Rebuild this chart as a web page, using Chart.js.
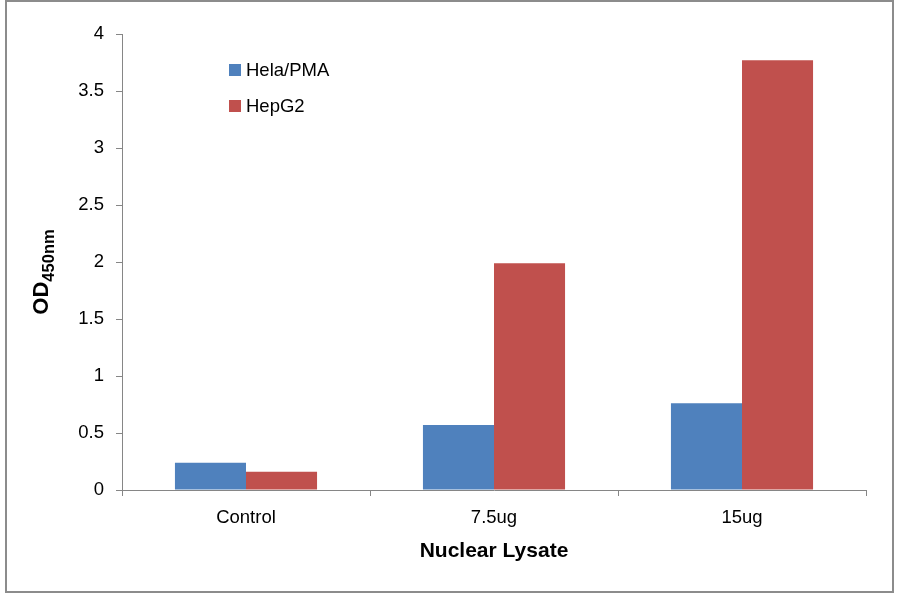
<!DOCTYPE html>
<html>
<head>
<meta charset="utf-8">
<style>
  html, body { margin: 0; padding: 0; background: #fff; }
  #wrap { width: 900px; height: 594px; }
</style>
<script src="https://cdn.jsdelivr.net/npm/chart.js@4/dist/chart.umd.min.js"></script>
</head>
<body>
<div id="wrap"><canvas id="chart" width="900" height="594"></canvas></div>
<script>
// Data
const categories = ['Control', '7.5ug', '15ug'];
const helaValues = [0.24, 0.57, 0.76];
const hepg2Values = [0.16, 1.99, 3.77];
const seriesNames = ['Hela/PMA', 'HepG2'];
const yTicks = [0, 0.5, 1, 1.5, 2, 2.5, 3, 3.5, 4];

const BLUE = '#4F81BD';
const RED = '#C0504D';
const AXIS = '#868686';
const FONT = "'Liberation Sans', 'DejaVu Sans', sans-serif";

// Frame, legend and axis titles
const decorations = {
    id: 'decorations',
    afterDraw(chart) {
        const ctx = chart.ctx;
        const area = chart.chartArea;
        ctx.save();

        // outer frame
        ctx.strokeStyle = '#8c8c8c';
        ctx.lineWidth = 2;
        ctx.strokeRect(6, 1, 887, 591);

        // legend inside plot
        const items = chart.data.datasets.map(ds => ({ label: ds.label, color: ds.backgroundColor }));
        ctx.font = '18.5px ' + FONT;
        ctx.textBaseline = 'middle';
        ctx.textAlign = 'left';
        items.forEach((it, i) => {
            const y = 70 + i * 36;
            ctx.fillStyle = it.color;
            ctx.fillRect(229, y - 6, 12, 12);
            ctx.fillStyle = '#000';
            ctx.fillText(it.label, 246, y + 1);
        });

        // x title
        ctx.font = 'bold 21px ' + FONT;
        ctx.textAlign = 'center';
        ctx.fillText('Nuclear Lysate', (area.left + area.right) / 2, 551);

        // y title with subscript
        ctx.translate(40, 272);
        ctx.rotate(-Math.PI / 2);
        ctx.font = 'bold 22px ' + FONT;
        const main = 'OD';
        const mainW = ctx.measureText(main).width;
        ctx.font = 'bold 16.5px ' + FONT;
        const sub = '450nm';
        const subW = ctx.measureText(sub).width;
        const start = -(mainW + subW) / 2;
        ctx.textAlign = 'left';
        ctx.textBaseline = 'alphabetic';
        ctx.font = 'bold 22px ' + FONT;
        ctx.fillText(main, start, 8);
        ctx.font = 'bold 16.5px ' + FONT;
        ctx.fillText(sub, start + mainW, 14);

        ctx.restore();
    }
};

const chart = new Chart(document.getElementById('chart'), {
    type: 'bar',
    data: {
        labels: categories,
        datasets: [
            { label: seriesNames[0], data: helaValues, backgroundColor: BLUE },
            { label: seriesNames[1], data: hepg2Values, backgroundColor: RED }
        ]
    },
    options: {
        responsive: false,
        animation: false,
        events: [],
        layout: { padding: { left: 0, right: 34, top: 34, bottom: 0 } },
        datasets: {
            bar: { categoryPercentage: 0.573, barPercentage: 1.0 }
        },
        plugins: {
            legend: { display: false },
            tooltip: { enabled: false }
        },
        scales: {
            x: {
                grid: {
                    display: true,
                    drawOnChartArea: false,
                    drawTicks: true,
                    tickLength: 6,
                    color: AXIS,
                    offset: true
                },
                border: { display: true, color: AXIS, width: 1 },
                ticks: {
                    color: '#000',
                    font: { family: FONT, size: 18.5 },
                    padding: 11
                },
                afterFit(scale) { scale.height = 104; }
            },
            y: {
                min: 0,
                max: 4,
                afterBuildTicks(scale) {
                    scale.ticks = yTicks.map(v => ({ value: v }));
                },
                grid: {
                    display: true,
                    drawOnChartArea: false,
                    drawTicks: true,
                    tickLength: 6,
                    color: AXIS
                },
                border: { display: true, color: AXIS, width: 1 },
                ticks: {
                    color: '#000',
                    font: { family: FONT, size: 18.5 },
                    padding: 12,
                    callback: v => String(v)
                },
                afterFit(scale) { scale.width = 122; }
            }
        }
    },
    plugins: [decorations]
});
</script>
</body>
</html>
